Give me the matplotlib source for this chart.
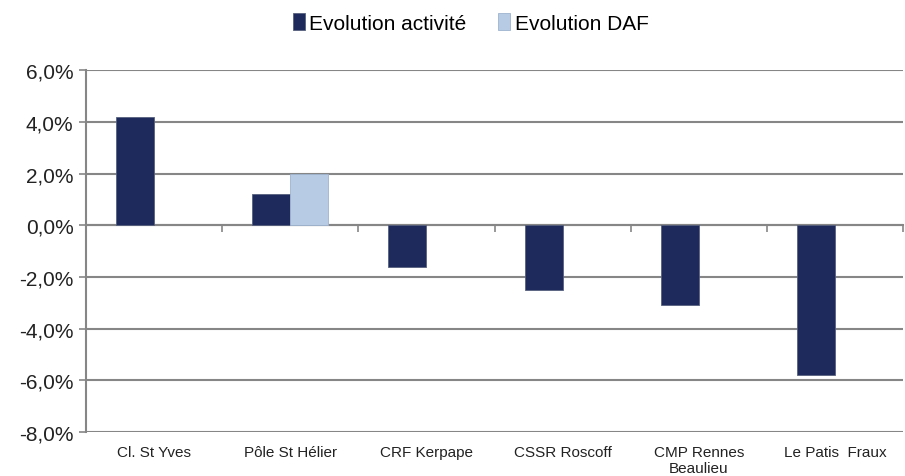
import matplotlib.pyplot as plt
import numpy as np

plt.rcParams['font.family'] = ['Liberation Sans Narrow', 'Liberation Sans', 'DejaVu Sans']

categories = ["Cl. St Yves", "Pôle St Hélier", "CRF Kerpape", "CSSR Roscoff",
              "CMP Rennes\nBeaulieu", "Le Patis  Fraux"]
evol_activite = [4.2, 1.2, -1.6, -2.5, -3.1, -5.8]
evol_daf = [np.nan, 2.0, np.nan, np.nan, np.nan, np.nan]
y_ticks = [-8, -6, -4, -2, 0, 2, 4, 6]

dark = "#1F2A5C"
light = "#B7CBE4"
grid_col = "#868686"

fig = plt.figure(figsize=(9.05, 4.77), dpi=100)
ax = fig.add_axes([0.095, 0.092, 0.903, 0.759])

x = np.arange(len(categories))
w = 0.28
ax.bar(x - w / 2, evol_activite, w, color=dark, edgecolor="#56617f", linewidth=0.6,
       label="Evolution activité", zorder=3)
ax.bar(x + w / 2, evol_daf, w, color=light, edgecolor="#9fb3cf", linewidth=0.6,
       label="Evolution DAF", zorder=3)

ax.set_xlim(-0.5, len(categories) - 0.5)
ax.set_ylim(-8, 6)
ax.set_yticks(y_ticks)
ax.set_yticklabels([f"{v:.1f}%".replace(".", ",") for v in y_ticks], fontsize=15,
                   family=['Liberation Sans', 'DejaVu Sans'])
ax.yaxis.grid(True, color=grid_col, linewidth=1.5, zorder=0)
ax.tick_params(axis="y", length=5, width=1.2, color=grid_col, colors="#222222", pad=4)

for s in ["top", "right"]:
    ax.spines[s].set_visible(False)
ax.spines["left"].set_color(grid_col)
ax.spines["left"].set_linewidth(1.5)
ax.spines["bottom"].set_position(("data", 0))
ax.spines["bottom"].set_color(grid_col)
ax.spines["bottom"].set_linewidth(1.5)

# category separators on the zero line
ax.set_xticks(np.arange(len(categories) + 1) - 0.5)
ax.set_xticklabels([])
ax.tick_params(axis="x", length=5, width=1.2, color=grid_col, direction="out")

# category labels under the plot
sec = ax.secondary_xaxis(0)
sec.set_xticks(x)
sec.set_xticklabels(categories, fontsize=11, color="#222222", va="top")
sec.tick_params(length=0, pad=9)
sec.spines["bottom"].set_visible(False)

fig.legend(loc="upper center", bbox_to_anchor=(0.52, 1.01), ncol=2, frameon=False,
           fontsize=15, handlelength=0.6, handleheight=0.9, handletextpad=0.2,
           columnspacing=1.5, prop={'family': ['Liberation Sans', 'DejaVu Sans'], 'size': 15})

fig.savefig("out.png", dpi=100)
